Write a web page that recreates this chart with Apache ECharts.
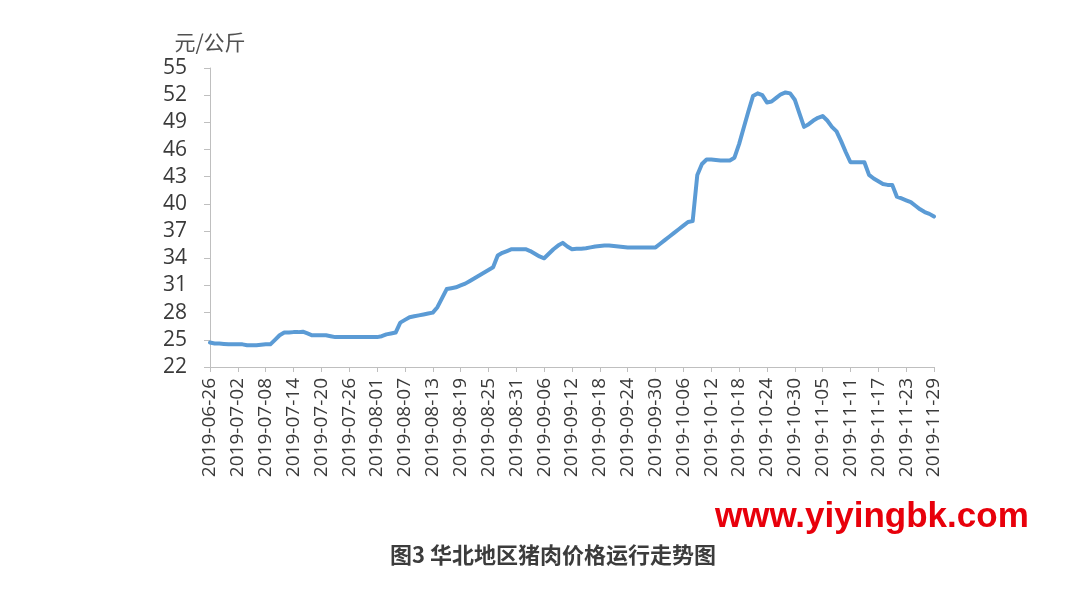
<!DOCTYPE html>
<html>
<head>
<meta charset="utf-8">
<script src="https://cdn.jsdelivr.net/npm/echarts@6/dist/echarts.min.js"></script>
<style>
html,body{margin:0;padding:0;background:#fff;}
#c{width:1080px;height:593px;}
</style>
</head>
<body>
<div id="c"></div>
<script>
// ---- data ----
const startDate = '2019-06-26';
const dayCount = 157;
const prices = [
  24.7,24.6,24.6,24.55,24.5,24.5,24.5,24.5,24.4,24.4,
  24.4,24.45,24.5,24.5,25.0,25.5,25.8,25.8,25.85,25.85,
  25.9,25.7,25.5,25.5,25.5,25.5,25.4,25.3,25.3,25.3,
  25.3,25.3,25.3,25.3,25.3,25.3,25.3,25.4,25.6,25.7,
  25.8,26.9,27.2,27.5,27.6,27.7,27.8,27.9,28.0,28.6,
  29.6,30.6,30.7,30.8,31.0,31.2,31.5,31.8,32.1,32.4,
  32.7,33.0,34.3,34.6,34.8,35.0,35.0,35.0,35.0,34.8,
  34.5,34.2,34.0,34.5,35.0,35.4,35.7,35.3,35.0,35.05,
  35.05,35.1,35.2,35.3,35.35,35.4,35.4,35.35,35.3,35.25,
  35.2,35.2,35.2,35.2,35.2,35.2,35.2,35.6,36.0,36.4,
  36.8,37.2,37.6,38.0,38.1,43.2,44.4,44.9,44.9,44.85,
  44.8,44.8,44.8,45.1,46.6,48.4,50.2,51.9,52.2,52.0,
  51.2,51.3,51.7,52.1,52.3,52.2,51.5,50.0,48.5,48.8,
  49.2,49.5,49.7,49.2,48.5,48.0,46.9,45.7,44.6,44.6,
  44.6,44.6,43.2,42.8,42.5,42.2,42.1,42.1,40.8,40.6,
  40.4,40.2,39.8,39.4,39.1,38.9,38.6
];
const yTicks = [22,25,28,31,34,37,40,43,46,49,52,55];
const yName = '元/公斤';
const caption = '图3 华北地区猪肉价格运行走势图';
const watermark = 'www.yiyingbk.com';

// build daily category labels
const dates = [];
(function(){
  const d0 = new Date(startDate + 'T00:00:00Z');
  for (let i = 0; i < dayCount; i++) {
    const d = new Date(d0.getTime() + i * 86400000);
    const m = String(d.getUTCMonth() + 1).padStart(2, '0');
    const dd = String(d.getUTCDate()).padStart(2, '0');
    dates.push(d.getUTCFullYear() + '-' + m + '-' + dd);
  }
})();

const chart = echarts.init(document.getElementById('c'), null, {renderer: 'canvas'});
const textColor = '#3a3a3a';
chart.setOption({
  backgroundColor: '#ffffff',
  animation: false,
  grid: {left: 210, right: 146, top: 68, bottom: 226, containLabel: false},
  title: [
    {
      text: caption, left: 385, top: 539,
      textStyle: {fontSize: 22, fontWeight: 'bold', color: '#3c3c3c', fontFamily: 'Noto Sans CJK SC'}
    }
  ],
  graphic: [
    {
      type: 'text', left: 715, top: 500,
      style: {text: watermark, fill: '#e8000b', font: 'bold 35px "Liberation Sans", Arial, sans-serif'}
    }
  ],
  xAxis: {
    type: 'category',
    data: dates,
    boundaryGap: false,
    axisLine: {lineStyle: {color: '#bfbfbf', width: 1}},
    axisTick: {show: true, interval: 5, length: 5, lineStyle: {color: '#bfbfbf'}},
    axisLabel: {
      interval: 5, rotate: 90, margin: 11,
      fontSize: 19, color: textColor, fontFamily: '"Open Sans", "Noto Sans", sans-serif'
    },
    splitLine: {show: false}
  },
  yAxis: {
    type: 'value',
    min: yTicks[0], max: yTicks[yTicks.length - 1],
    name: yName,
    nameLocation: 'end',
    nameGap: 15,
    nameTextStyle: {fontSize: 21, color: '#505050', fontFamily: 'Noto Sans CJK SC', align: 'center'},
    axisLine: {show: true, lineStyle: {color: '#bfbfbf', width: 1}},
    axisTick: {show: true, length: 6, lineStyle: {color: '#bfbfbf'}, customValues: yTicks},
    axisLabel: {
      customValues: yTicks, margin: 23,
      fontSize: 21, color: textColor, fontFamily: '"Open Sans", "Noto Sans", sans-serif'
    },
    splitLine: {show: false}
  },
  series: [{
    type: 'line',
    data: prices,
    showSymbol: false,
    smooth: false,
    lineStyle: {color: '#5b9bd5', width: 4, join: 'round', cap: 'round'},
    itemStyle: {color: '#5b9bd5'}
  }]
});
</script>
</body>
</html>
